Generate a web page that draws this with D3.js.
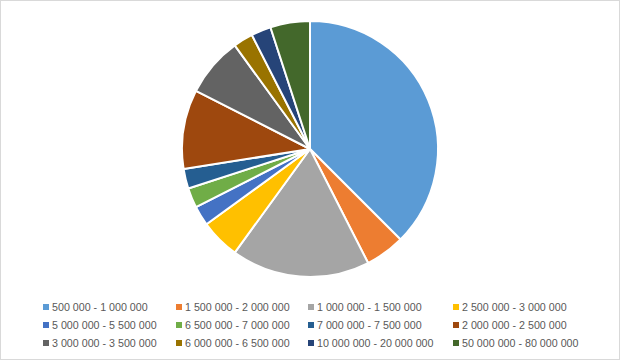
<!DOCTYPE html>
<html>
<head>
<meta charset="utf-8">
<script src="https://cdn.jsdelivr.net/npm/d3@7"></script>
<style>
  body { margin: 0; background: #fff; }
  svg { display: block; font-family: "Liberation Sans", Arial, sans-serif; }
</style>
</head>
<body>
<svg id="chart" width="620" height="360"></svg>
<script>
// categories in legend order (clockwise from 12 o'clock)
const categories = [
  "500 000 - 1 000 000", "1 500 000 - 2 000 000", "1 000 000 - 1 500 000", "2 500 000 - 3 000 000",
  "5 000 000 - 5 500 000", "6 500 000 - 7 000 000", "7 000 000 - 7 500 000", "2 000 000 - 2 500 000",
  "3 000 000 - 3 500 000", "6 000 000 - 6 500 000", "10 000 000 - 20 000 000", "50 000 000 - 80 000 000"
];
const counts = [15, 2, 7, 2, 1, 1, 1, 4, 3, 1, 1, 2];
const colors = [
  "#5B9BD5", "#ED7D31", "#A5A5A5", "#FFC000",
  "#4472C4", "#70AD47", "#255E91", "#9E480E",
  "#636363", "#997300", "#264478", "#43682B"
];

const svg = d3.select("#chart");
const W = 620, H = 360;

svg.append("rect")
    .attr("x", 0.5).attr("y", 0.5)
    .attr("width", W - 1).attr("height", H - 1)
    .attr("fill", "#fff")
    .attr("stroke", "#D9D9D9");

const data = categories.map((c, i) => ({ name: c, value: counts[i], color: colors[i] }));

const cx = 310, cy = 149, radius = 128;
const pie = d3.pie().value(d => d.value).sort(null);
const arc = d3.arc().innerRadius(0).outerRadius(radius);

const g = svg.append("g").attr("transform", `translate(${cx},${cy})`);
g.selectAll("path")
    .data(pie(data))
    .join("path")
    .attr("d", arc)
    .attr("fill", d => d.data.color)
    .attr("stroke", "#fff")
    .attr("stroke-width", 2)
    .attr("stroke-linejoin", "round");

// legend: 4 columns, 3 rows
const colX = d3.scaleOrdinal().domain([0, 1, 2, 3]).range([43, 176, 308, 453]);
const rowY = d3.scaleOrdinal().domain([0, 1, 2]).range([307, 325, 343]);

const legend = svg.append("g");
const item = legend.selectAll("g")
    .data(data)
    .join("g")
    .attr("transform", (d, i) => `translate(${colX(i % 4)},${rowY(Math.floor(i / 4))})`);

item.append("rect")
    .attr("x", 0).attr("y", -3)
    .attr("width", 6).attr("height", 6)
    .attr("fill", d => d.color);

item.append("text")
    .attr("x", 9)
    .attr("y", 0)
    .attr("dy", "0.35em")
    .attr("font-size", 10.7)
    .attr("fill", "#595959")
    .text(d => d.name);
</script>
</body>
</html>
